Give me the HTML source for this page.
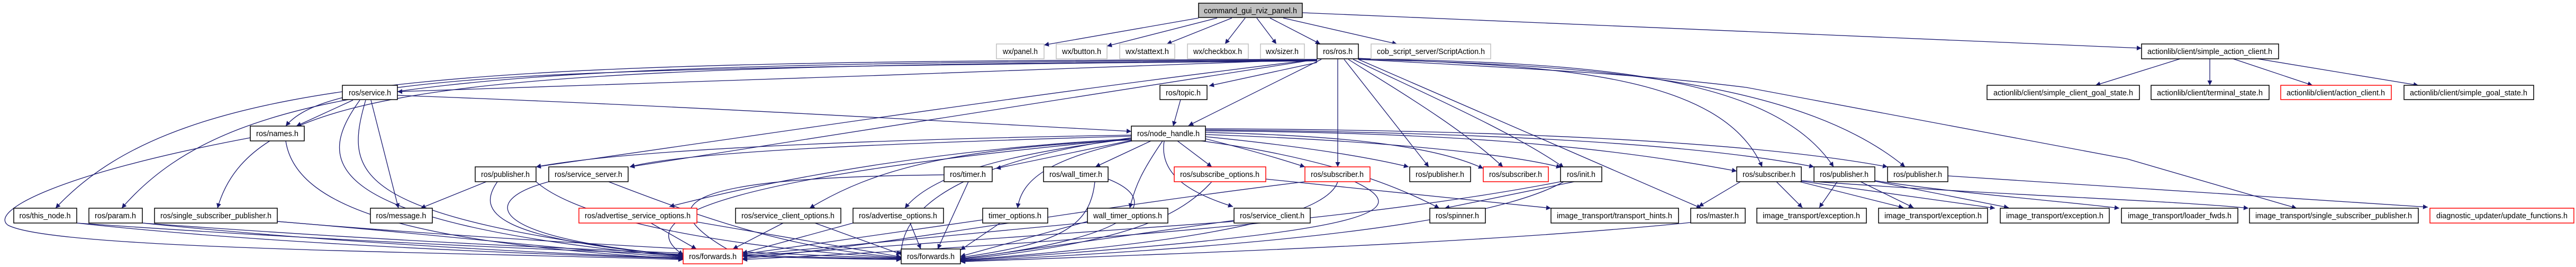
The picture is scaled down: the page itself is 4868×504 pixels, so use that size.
<!DOCTYPE html>
<html><head><meta charset="utf-8"><style>
html,body{margin:0;padding:0;background:#fff;}
svg{display:block;}
text{font-family:"Liberation Sans",sans-serif;font-size:15px;fill:#000;}
.e{fill:none;stroke:#191970;stroke-width:1.3;}
</style></head><body>
<svg width="4868" height="504" viewBox="0 0 4868 504" xmlns="http://www.w3.org/2000/svg">
<defs><marker id="a" viewBox="0 0 10 10" refX="10" refY="5" markerWidth="12" markerHeight="9" markerUnits="userSpaceOnUse" orient="auto"><path d="M0,0 L10,5 L0,10 z" fill="#191970"/></marker></defs>
<g class="e" marker-end="url(#a)">
<!-- top node -->
<path d="M2265,34 L1973,85"/>
<path d="M2300,34 L2092,87"/>
<path d="M2328,34 L2205,83"/>
<path d="M2353,34 L2315,83"/>
<path d="M2375,34 L2412,83"/>
<path d="M2400,34 L2495,83"/>
<path d="M2425,34 L2640,83"/>
<path d="M2461,24 L4047,91"/>
<!-- ros.h -->
<path d="M2489,118 L2285,162"/>
<path d="M2497,112 L2246,237"/>
<path d="M2489,112 C2000,130 1200,160 751,173"/>
<path d="M2489,112 C900,116 350,130 105,393"/>
<path d="M2489,113 C900,120 450,140 230,393"/>
<path d="M2489,114 C900,125 480,150 411,393"/>
<path d="M2489,115 C1000,128 620,140 540,238"/>
<path d="M2489,112 C2000,170 1400,260 1013,315"/>
<path d="M2489,112 L1190,315"/>
<path d="M2528,111 L2528,315"/>
<path d="M2540,112 L2700,315"/>
<path d="M2548,112 C2640,170 2760,240 2840,315"/>
<path d="M2557,112 C2700,180 2860,250 2955,316"/>
<path d="M2567,112 L3215,393"/>
<path d="M2567,110 C2900,125 3250,130 3330,315"/>
<path d="M2567,111 C3000,118 3350,140 3465,315"/>
<path d="M2567,112 C3000,122 3400,150 3600,315"/>
<path d="M2567,112 C2900,130 3100,140 3300,165 L4020,300 L4340,393"/>
<!-- service.h -->
<path d="M751,180 C1300,200 1800,230 2138,248"/>
<path d="M667,189 L560,238"/>
<path d="M701,189 L753,393"/>
<!-- topic -->
<path d="M2231,188 L2217,238"/>
<!-- node_handle -->
<path d="M2138,265 L1882,318"/>
<path d="M2175,266 L2070,315"/>
<path d="M2225,266 L2290,315"/>
<path d="M2138,262 C1900,290 1760,330 1710,393"/>
<path d="M2140,266 C1980,300 1930,340 1923,393"/>
<path d="M2197,266 C2160,320 2145,350 2135,393"/>
<path d="M2200,266 C2190,330 2250,365 2330,390"/>
<path d="M2138,255 C1700,262 1200,280 1013,315"/>
<path d="M2138,257 C1700,270 1300,285 1190,315"/>
<path d="M2138,262 C1800,280 1500,330 1265,390"/>
<path d="M2138,264 C1800,280 1650,320 1530,393"/>
<path d="M2278,262 C2350,280 2420,300 2466,315"/>
<path d="M2278,258 C2450,275 2580,295 2662,315"/>
<path d="M2278,250 C2500,255 2700,270 2803,318"/>
<path d="M2278,254 C2600,265 2850,290 2950,316"/>
<path d="M2270,266 C2450,290 2600,330 2720,393"/>
<path d="M2278,247 C2700,250 3000,270 3282,323"/>
<path d="M2278,245 C2800,250 3200,270 3428,315"/>
<path d="M2278,243 C2800,245 3300,265 3567,315"/>
<path d="M2392,338 L2931,393"/>
<!-- init -->
<path d="M2975,343 L2730,393"/>
<!-- actionlib -->
<path d="M4120,111 L3960,161"/>
<path d="M4176,111 L4176,161"/>
<path d="M4220,111 L4370,161"/>
<path d="M4266,111 L4570,161"/>
<!-- publisher left -->
<path d="M919,343 L795,393"/>
<!-- right cluster -->
<path d="M3289,343 L3210,390"/>
<path d="M3357,343 L3406,392"/>
<path d="M3401,343 L3597,392"/>
<path d="M3404,342 L3770,393"/>
<path d="M3472,343 L3438,392"/>
<path d="M3516,343 L3616,392"/>
<path d="M3543,342 L3796,392"/>
<path d="M3543,341 C3700,365 3900,380 4005,393"/>
<path d="M3404,341 C3800,370 4100,378 4249,393"/>
<path d="M3681,332 L4588,391"/>
<!-- to forwards red (F1) -->
<path d="M145,421 C500,460 1000,480 1291,488"/>
<path d="M269,421 C600,455 1000,478 1291,487"/>
<path d="M524,418 C800,440 1100,475 1291,486"/>
<path d="M540,266 C560,400 800,460 1291,489"/>
<path d="M473,260 C100,330 -20,400 15,425 C100,470 800,475 1291,490"/>
<path d="M680,189 C600,300 580,420 1291,485"/>
<path d="M691,189 C650,330 660,410 1291,484"/>
<path d="M940,343 C900,400 930,450 1291,483"/>
<path d="M1037,343 C900,380 920,450 1291,482"/>
<path d="M1230,421 L1316,470"/>
<path d="M1480,421 L1385,470"/>
<path d="M1612,421 L1403,478"/>
<path d="M1857,415 L1403,480"/>
<path d="M2055,420 L1403,482"/>
<path d="M2332,418 L1403,484"/>
<path d="M1784,330 C1300,335 1200,380 1403,486"/>
<path d="M2138,262 C1300,340 1200,420 1291,481"/>
<path d="M2466,343 C2000,400 1700,460 1403,488"/>
<path d="M2949,343 C2500,430 1800,470 1403,490"/>
<!-- to forwards black (F2) -->
<path d="M145,421 C700,460 1300,485 1703,490"/>
<path d="M269,421 C800,460 1300,482 1703,489"/>
<path d="M524,418 C900,450 1400,478 1703,488"/>
<path d="M1013,343 C1100,420 1400,470 1703,487"/>
<path d="M1150,343 C1350,420 1500,470 1703,486"/>
<path d="M1317,419 L1703,485"/>
<path d="M1540,421 L1703,480"/>
<path d="M1720,421 L1740,470"/>
<path d="M1830,343 L1772,470"/>
<path d="M1890,421 L1815,472"/>
<path d="M2055,418 L1815,484"/>
<path d="M2069,343 C2060,430 2000,460 1815,486"/>
<path d="M2094,338 C2200,380 2150,450 1815,488"/>
<path d="M2332,416 L1815,489"/>
<path d="M2290,343 C2220,420 2100,460 1815,490"/>
<path d="M2528,343 C2500,430 2100,470 1815,491"/>
<path d="M2560,343 C2680,400 2600,440 1815,492"/>
<path d="M2955,343 C2800,430 2300,470 1815,493"/>
<path d="M3195,420 C2800,460 2200,480 1815,494"/>
<path d="M2138,260 C1850,300 1700,380 1703,484"/>
</g>
<g stroke-width="1.5">
<rect x="2265" y="6" width="196" height="27" fill="#bfbfbf" stroke="#000"/>
<g fill="#fff" stroke="#bfbfbf">
<rect x="1883" y="83" width="90" height="28"/>
<rect x="1996" y="83" width="96" height="28"/>
<rect x="2116" y="83" width="104" height="28"/>
<rect x="2244" y="83" width="115" height="28"/>
<rect x="2382" y="83" width="83" height="28"/>
<rect x="2591" y="83" width="226" height="28"/>
</g>
<g fill="#fff" stroke="#000">
<rect x="2489" y="83" width="78" height="28"/>
<rect x="4047" y="83" width="259" height="28"/>
<rect x="647" y="161" width="104" height="27"/>
<rect x="2192" y="161" width="89" height="27"/>
<rect x="3755" y="161" width="288" height="27"/>
<rect x="4065" y="161" width="223" height="27"/>
<rect x="4543" y="161" width="245" height="27"/>
<rect x="473" y="238" width="102" height="28"/>
<rect x="2138" y="238" width="140" height="28"/>
<rect x="898" y="315" width="115" height="28"/>
<rect x="1037" y="315" width="150" height="28"/>
<rect x="1784" y="315" width="91" height="28"/>
<rect x="1972" y="315" width="122" height="28"/>
<rect x="2664" y="315" width="115" height="28"/>
<rect x="2949" y="315" width="78" height="28"/>
<rect x="3282" y="315" width="122" height="28"/>
<rect x="3428" y="315" width="115" height="28"/>
<rect x="3567" y="315" width="114" height="28"/>
<rect x="26" y="393" width="119" height="28"/>
<rect x="168" y="393" width="101" height="28"/>
<rect x="292" y="393" width="232" height="28"/>
<rect x="700" y="393" width="117" height="28"/>
<rect x="1390" y="393" width="199" height="28"/>
<rect x="1612" y="393" width="171" height="28"/>
<rect x="1857" y="393" width="123" height="28"/>
<rect x="2055" y="393" width="152" height="28"/>
<rect x="2332" y="393" width="144" height="28"/>
<rect x="2702" y="393" width="105" height="28"/>
<rect x="2931" y="393" width="241" height="28"/>
<rect x="3195" y="393" width="103" height="28"/>
<rect x="3320" y="393" width="207" height="28"/>
<rect x="3550" y="393" width="206" height="28"/>
<rect x="3780" y="393" width="206" height="28"/>
<rect x="4009" y="393" width="220" height="28"/>
<rect x="4251" y="393" width="319" height="28"/>
<rect x="1703" y="470" width="112" height="28"/>
</g>
<g fill="#fff" stroke="#f00">
<rect x="4310" y="161" width="209" height="27"/>
<rect x="2219" y="315" width="173" height="28"/>
<rect x="2466" y="315" width="123" height="28"/>
<rect x="2803" y="315" width="123" height="28"/>
<rect x="1094" y="393" width="223" height="28"/>
<rect x="4592" y="393" width="272" height="28"/>
<rect x="1291" y="470" width="112" height="28"/>
</g>
</g>
<g text-anchor="middle" lengthAdjust="spacingAndGlyphs">
<text x="2363" y="25" textLength="176" lengthAdjust="spacingAndGlyphs">command_gui_rviz_panel.h</text>
<text x="1928" y="102" textLength="66" lengthAdjust="spacingAndGlyphs">wx/panel.h</text>
<text x="2044" y="102" textLength="74" lengthAdjust="spacingAndGlyphs">wx/button.h</text>
<text x="2168" y="102" textLength="82" lengthAdjust="spacingAndGlyphs">wx/stattext.h</text>
<text x="2301" y="102" textLength="92" lengthAdjust="spacingAndGlyphs">wx/checkbox.h</text>
<text x="2423" y="102" textLength="62" lengthAdjust="spacingAndGlyphs">wx/sizer.h</text>
<text x="2528" y="102" textLength="56" lengthAdjust="spacingAndGlyphs">ros/ros.h</text>
<text x="2704" y="102" textLength="204" lengthAdjust="spacingAndGlyphs">cob_script_server/ScriptAction.h</text>
<text x="4176" y="102" textLength="236" lengthAdjust="spacingAndGlyphs">actionlib/client/simple_action_client.h</text>
<text x="699" y="180" textLength="80" lengthAdjust="spacingAndGlyphs">ros/service.h</text>
<text x="2236" y="180" textLength="66" lengthAdjust="spacingAndGlyphs">ros/topic.h</text>
<text x="3899" y="180" textLength="264" lengthAdjust="spacingAndGlyphs">actionlib/client/simple_client_goal_state.h</text>
<text x="4176" y="180" textLength="200" lengthAdjust="spacingAndGlyphs">actionlib/client/terminal_state.h</text>
<text x="4414" y="180" textLength="186" lengthAdjust="spacingAndGlyphs">actionlib/client/action_client.h</text>
<text x="4665" y="180" textLength="222" lengthAdjust="spacingAndGlyphs">actionlib/client/simple_goal_state.h</text>
<text x="524" y="257" textLength="80" lengthAdjust="spacingAndGlyphs">ros/names.h</text>
<text x="2208" y="257" textLength="118" lengthAdjust="spacingAndGlyphs">ros/node_handle.h</text>
<text x="955" y="334" textLength="92" lengthAdjust="spacingAndGlyphs">ros/publisher.h</text>
<text x="1112" y="334" textLength="128" lengthAdjust="spacingAndGlyphs">ros/service_server.h</text>
<text x="1829" y="334" textLength="68" lengthAdjust="spacingAndGlyphs">ros/timer.h</text>
<text x="2033" y="334" textLength="100" lengthAdjust="spacingAndGlyphs">ros/wall_timer.h</text>
<text x="2305" y="334" textLength="150" lengthAdjust="spacingAndGlyphs">ros/subscribe_options.h</text>
<text x="2527" y="334" textLength="100" lengthAdjust="spacingAndGlyphs">ros/subscriber.h</text>
<text x="2721" y="334" textLength="92" lengthAdjust="spacingAndGlyphs">ros/publisher.h</text>
<text x="2864" y="334" textLength="100" lengthAdjust="spacingAndGlyphs">ros/subscriber.h</text>
<text x="2988" y="334" textLength="54" lengthAdjust="spacingAndGlyphs">ros/init.h</text>
<text x="3343" y="334" textLength="100" lengthAdjust="spacingAndGlyphs">ros/subscriber.h</text>
<text x="3485" y="334" textLength="92" lengthAdjust="spacingAndGlyphs">ros/publisher.h</text>
<text x="3624" y="334" textLength="92" lengthAdjust="spacingAndGlyphs">ros/publisher.h</text>
<text x="85" y="412" textLength="97" lengthAdjust="spacingAndGlyphs">ros/this_node.h</text>
<text x="218" y="412" textLength="78" lengthAdjust="spacingAndGlyphs">ros/param.h</text>
<text x="408" y="412" textLength="210" lengthAdjust="spacingAndGlyphs">ros/single_subscriber_publisher.h</text>
<text x="758" y="412" textLength="95" lengthAdjust="spacingAndGlyphs">ros/message.h</text>
<text x="1205" y="412" textLength="200" lengthAdjust="spacingAndGlyphs">ros/advertise_service_options.h</text>
<text x="1489" y="412" textLength="176" lengthAdjust="spacingAndGlyphs">ros/service_client_options.h</text>
<text x="1697" y="412" textLength="148" lengthAdjust="spacingAndGlyphs">ros/advertise_options.h</text>
<text x="1918" y="412" textLength="100" lengthAdjust="spacingAndGlyphs">timer_options.h</text>
<text x="2131" y="412" textLength="130" lengthAdjust="spacingAndGlyphs">wall_timer_options.h</text>
<text x="2404" y="412" textLength="122" lengthAdjust="spacingAndGlyphs">ros/service_client.h</text>
<text x="2754" y="412" textLength="82" lengthAdjust="spacingAndGlyphs">ros/spinner.h</text>
<text x="3051" y="412" textLength="218" lengthAdjust="spacingAndGlyphs">image_transport/transport_hints.h</text>
<text x="3246" y="412" textLength="80" lengthAdjust="spacingAndGlyphs">ros/master.h</text>
<text x="3423" y="412" textLength="184" lengthAdjust="spacingAndGlyphs">image_transport/exception.h</text>
<text x="3653" y="412" textLength="184" lengthAdjust="spacingAndGlyphs">image_transport/exception.h</text>
<text x="3883" y="412" textLength="184" lengthAdjust="spacingAndGlyphs">image_transport/exception.h</text>
<text x="4119" y="412" textLength="196" lengthAdjust="spacingAndGlyphs">image_transport/loader_fwds.h</text>
<text x="4410" y="412" textLength="296" lengthAdjust="spacingAndGlyphs">image_transport/single_subscriber_publisher.h</text>
<text x="4728" y="412" textLength="248" lengthAdjust="spacingAndGlyphs">diagnostic_updater/update_functions.h</text>
<text x="1347" y="489" textLength="90" lengthAdjust="spacingAndGlyphs">ros/forwards.h</text>
<text x="1759" y="489" textLength="90" lengthAdjust="spacingAndGlyphs">ros/forwards.h</text>
</g>
</svg>
</body></html>
